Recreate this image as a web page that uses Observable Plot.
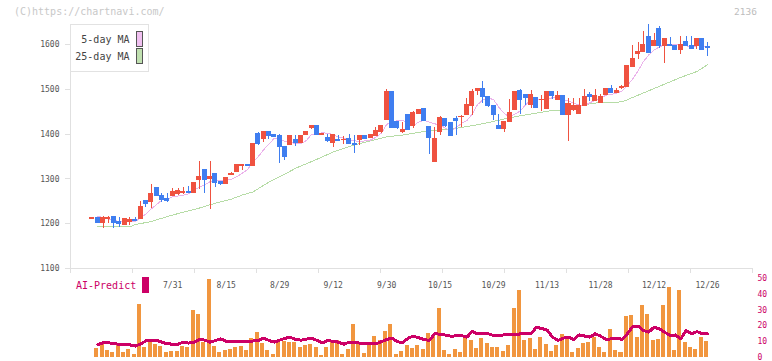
<!DOCTYPE html>
<html><head><meta charset="utf-8">
<script src="https://cdn.jsdelivr.net/npm/d3@7"></script>
<script src="https://cdn.jsdelivr.net/npm/@observablehq/plot@0.6"></script>
<style>
body{margin:0;background:#fff;}
#wrap{position:relative;width:772px;height:361px;overflow:hidden;font-family:"DejaVu Sans Mono",monospace;background:#fff;}
#wrap svg{position:absolute;left:0;}
#wrap svg rect,#wrap svg line,#wrap svg path{shape-rendering:crispEdges;}
.ov{position:absolute;white-space:nowrap;font-size:10px;line-height:12px;}
</style></head><body><div id="wrap"></div>
<script>
// ---- data ----
const opens = [1211,1212,1201,1211,1214,1203,1198,1203,1209,1211, 1250,1248,1279,1262,1256,1263,1267,1269,1270,1269, 1298,1319,1299,1310,1293,1288,1308,1316,1328,1332, 1330,1400,1389,1406,1399,1396,1372,1375,1388,1381, 1398,1413,1419,1398,1392,1380,1388,1387,1390,1377, 1388,1395,1391,1397,1406,1431,1495,1428,1404,1442, 1419,1445,1457,1416,1337,1406,1435,1426,1435,1438, 1442,1464,1497,1500,1484,1464,1419,1412,1428,1453, 1497,1488,1466,1480,1476,1457,1495,1477,1486,1442, 1453,1444,1462,1488,1474,1470,1488,1500,1493,1504, 1506,1551,1580,1584,1616,1596,1636,1598,1600,1598, 1587,1607,1598,1596,1613,1594];
const highs = [1212,1212,1216,1216,1214,1214,1211,1214,1215,1250, 1250,1288,1281,1268,1267,1279,1279,1281,1283,1292, 1339,1319,1339,1310,1293,1303,1314,1331,1332,1332, 1379,1404,1406,1406,1399,1400,1372,1397,1397,1397, 1406,1419,1419,1401,1400,1399,1397,1394,1399,1397, 1397,1397,1399,1415,1419,1500,1495,1428,1426,1444, 1450,1455,1457,1418,1416,1439,1435,1426,1439,1442, 1480,1500,1500,1517,1484,1464,1444,1428,1477,1495, 1500,1488,1497,1480,1486,1495,1495,1495,1486,1480, 1480,1479,1500,1493,1500,1488,1500,1509,1502,1509, 1553,1598,1605,1629,1645,1625,1640,1613,1616,1598, 1618,1618,1618,1613,1613,1604];
const lows = [1211,1201,1190,1201,1190,1191,1198,1195,1206,1211, 1237,1235,1262,1248,1248,1263,1264,1266,1268,1269, 1276,1268,1232,1282,1286,1288,1308,1316,1320,1327, 1330,1375,1381,1389,1394,1335,1342,1375,1372,1381, 1398,1410,1398,1397,1381,1370,1384,1377,1377,1357, 1375,1390,1391,1397,1402,1431,1413,1411,1401,1410, 1412,1445,1430,1355,1337,1397,1416,1397,1397,1416, 1442,1442,1486,1468,1459,1430,1412,1404,1428,1453, 1444,1463,1457,1459,1450,1457,1477,1477,1442,1384, 1450,1444,1462,1474,1474,1470,1486,1491,1493,1500, 1506,1551,1567,1584,1582,1596,1591,1558,1596,1587, 1578,1596,1591,1589,1586,1573];
const closes = [1212,1201,1212,1212,1201,1200,1211,1209,1206,1238, 1244,1266,1262,1254,1250,1270,1274,1270,1269,1292, 1305,1298,1304,1291,1288,1303,1311,1331,1332,1330, 1379,1377,1406,1397,1394,1371,1350,1397,1380,1397, 1406,1419,1398,1400,1384,1399,1384,1388,1377,1375, 1395,1390,1399,1408,1419,1495,1413,1413,1410,1410, 1448,1455,1430,1391,1390,1437,1419,1397,1430,1439, 1466,1495,1500,1484,1462,1442,1412,1428,1448,1495, 1477,1480,1488,1459,1477,1495,1486,1486,1442,1468, 1464,1464,1482,1484,1486,1484,1500,1491,1497,1506, 1553,1567,1584,1600,1582,1609,1598,1613,1596,1587, 1600,1596,1591,1613,1587,1593];
const ma5 = [null,1217,1214,1210,1208,1205,1207,1207,1205,1213, 1222,1233,1243,1253,1255,1260,1262,1264,1267,1275, 1282,1287,1294,1298,1297,1297,1299,1305,1313,1321, 1337,1350,1365,1378,1391,1389,1384,1382,1378,1379, 1386,1400,1400,1404,1401,1400,1393,1391,1386,1385, 1384,1385,1387,1393,1402,1422,1427,1430,1430,1428, 1419,1427,1431,1427,1423,1421,1413,1407,1415,1424, 1430,1445,1466,1477,1481,1477,1460,1446,1438,1445, 1452,1466,1478,1480,1476,1480,1481,1481,1477,1475, 1469,1465,1464,1470,1476,1480,1487,1489,1492,1496, 1509,1523,1541,1562,1577,1588,1595,1600,1600,1601, 1599,1598,1594,1597,1597,1596];
const ma25Idx = [1,7,8,11,14,17,20,23,26,28,30,33,36,38,41,45,49,52,55,58,62,65,68,71,74,77,80,84,86,88,91,93,95,99,101,104,107,110,113,115];
const ma25Val = [1193,1193,1198,1205,1216,1226,1235,1246,1255,1264,1271,1293,1311,1324,1339,1360,1376,1385,1394,1398,1406,1409,1413,1419,1426,1434,1441,1449,1453,1453,1462,1468,1471,1472,1482,1497,1512,1527,1540,1555];
const volume = [0,5.9,8.7,4.6,3.4,7.6,3.4,5.1,2.1,33.5, 6.5,9.7,8.2,7.2,3.4,4.0,4.0,7.2,6.5,30, 27.4,9.7,49.4,7.2,3.4,4.4,5.1,6.5,7.2,4.4, 12.2,16,9,4.4,1.7,10.1,10.1,9.7,9.7,6.5, 7.6,8.2,6.5,1.3,6.5,10.8,10.8,1.9,5.1,20.9, 8.2,2.5,8.2,13.3,10.8,16.5,20.9,1.9,3.8,7.6, 5.7,7.6,5.1,15.2,13.3,31,4.4,1.9,5.1,3.2, 13.3,10.8,5.7,12,8.9,6.3,6.3,3.8,7.6,31, 42.4,10.8,12,5.1,12.7,8.4,3.8,7.6,14.6,13.3, 3.2,5.7,8.9,9.5,12.7,6.3,3.2,17.7,4.4,3.2, 25.9,26.6,12.7,32.9,27.2,10.8,11.4,32.9,44.3,4.4, 42.4,9.5,6.3,5.1,12.7,10.1];
const aiIdx = [1,2,4,5,7,8,9,10,12,13,14,16,17,18,19,20,21,22,24,25,27,29,31,32,33,34,36,37,38,39,41,43,44,46,47,48,50,52,53,55,56,57,58,59,60,62,63,64,65,67,69,70,71,72,74,75,77,79,80,82,83,85,86,87,88,89,90,91,93,94,95,96,98,99,100,101,102,103,104,105,106,108,109,110,111,112,113,114,115];
const aiVal = [8.2,9.3,9.1,8.2,8.0,7.2,8.6,10.5,10.8,9.7,8.6,8.4,9.7,9.1,9.7,11.4,11.0,9.7,11.8,10.3,10.1,10.1,10.8,12.2,10.8,9.7,12.2,12.7,11.4,11.0,12.2,9.3,10.8,9.7,8.4,9.7,9.1,8.6,8.6,11.4,12.2,10.1,9.3,12.2,13.5,11.4,10.8,15.0,14.8,13.5,13.9,12.9,16.4,15.0,15.0,13.9,14.3,14.3,15.0,15.0,19.2,17.4,13.0,10.8,12.2,12.9,11.4,14.3,12.9,15.0,13.5,11.4,12.2,11.5,15.0,19.5,19.8,17.1,16.1,19.2,18.1,13.9,14.3,11.8,17.1,15.0,16.4,15.0,15.0];
const dateLabels = ["7/31","8/15","8/29","9/12","9/30","10/15","10/29","11/13","11/28","12/12","12/26"];
const dateLabelIdx = [15,25,35,45,55,65,75,85,95,105,115];
const priceTicks = [1100,1200,1300,1400,1500,1600];
const aiTicks = [0,10,20,30,40,50];

// ---- tables ----
const candles = opens.map((o,i)=>({i, o, h: highs[i], l: lows[i], c: closes[i], up: closes[i] >= o}));
const ma5Data = ma5.map((v,i)=>({i, v}));
const ma25Data = ma25Idx.map((i,k)=>({i, v: ma25Val[k]}));
const volData = volume.map((v,i)=>({i, v}));
const aiData = aiIdx.map((i,k)=>({i, v: aiVal[k]}));
const labelData = dateLabels.map((t,k)=>({i: dateLabelIdx[k], t}));

const RED = "#ef5240", BLUE = "#3f7ef0";
const xDomain = [-4.1, 123.4];
const gridTicks = d3.range(12).map(k => xDomain[0] + k*(xDomain[1]-xDomain[0])/11);
const font = "'DejaVu Sans Mono', monospace";

const topPlot = Plot.plot({
  width: 772, height: 275,
  marginLeft: 70, marginRight: 20, marginTop: 24, marginBottom: 7,
  x: {domain: xDomain, axis: null},
  y: {domain: [1100, 1645], axis: null},
  style: {background: "transparent", fontFamily: font, fontSize: "8px", color: "#555"},
  marks: [
    Plot.ruleX([xDomain[0]], {stroke: "#e0e0e0", strokeWidth: 1.5}),
    Plot.ruleY([1100], {stroke: "#e0e0e0", strokeWidth: 1.5}),
    Plot.axisX({ticks: gridTicks, tickSize: 5, tickFormat: () => "", stroke: "#e0e0e0", label: null}),
    Plot.axisY({ticks: priceTicks, tickSize: 5, tickPadding: 6, tickFormat: d => String(d), stroke: "#e0e0e0", fill: "#555", label: null}),
    Plot.line(ma25Data, {x: "i", y: "v", stroke: "#b6dca6", strokeWidth: 1}),
    Plot.line(ma5Data, {x: "i", y: "v", stroke: "#ebb2eb", strokeWidth: 1}),
    Plot.ruleX(candles, {filter: d => d.up, x: "i", y1: "l", y2: "h", stroke: RED, strokeWidth: 1}),
    Plot.ruleX(candles, {filter: d => !d.up, x: "i", y1: "l", y2: "h", stroke: BLUE, strokeWidth: 1}),
    Plot.rect(candles, {filter: d => d.up, x1: d => d.i - 0.47, x2: d => d.i + 0.47, y1: "o", y2: "c", fill: RED, insetTop: -0.5, insetBottom: -0.5}),
    Plot.rect(candles, {filter: d => !d.up, x1: d => d.i - 0.47, x2: d => d.i + 0.47, y1: "o", y2: "c", fill: BLUE, insetTop: -0.5, insetBottom: -0.5})
  ]
});
topPlot.style.top = "0px";

const botPlot = Plot.plot({
  width: 772, height: 91,
  marginLeft: 70, marginRight: 20, marginTop: 8, marginBottom: 4,
  x: {domain: xDomain, axis: null},
  y: {domain: [0, 50], axis: null},
  style: {background: "transparent", fontFamily: font, fontSize: "8px"},
  marks: [
    Plot.rect(volData, {x1: d => d.i - 0.56, x2: d => d.i + 0.19, y1: 0, y2: "v", fill: "#f1963f"}),
    Plot.line(aiData, {x: "i", y: "v", stroke: "#cc0066", strokeWidth: 3}),
    Plot.axisY({anchor: "right", ticks: aiTicks, tickSize: 0, tickPadding: 5, fill: "#cc0066", label: null}),
    Plot.text(labelData, {x: "i", text: "t", frameAnchor: "top", dy: 4, fill: "#555"})
  ]
});
botPlot.style.top = "270px";

const wrap = document.getElementById("wrap");
wrap.appendChild(topPlot);
wrap.appendChild(botPlot);

function ov(html, css){ const d = document.createElement("div"); d.className = "ov"; d.innerHTML = html; Object.assign(d.style, css); wrap.appendChild(d); return d; }
ov("(C)https://chartnavi.com/", {left: "14px", top: "6px", color: "#c8c8c8"});
ov("2136", {left: "734px", top: "6px", color: "#bdbdbd", fontSize: "9.5px"});
// legend
ov("", {left: "70px", top: "24px", width: "79px", height: "48px", boxSizing: "border-box", border: "1px solid #e2e2e2", background: "#fff"});
ov("5-day MA", {left: "70px", width: "59.5px", textAlign: "right", top: "34px", color: "#444"});
ov("25-day MA", {left: "70px", width: "59.5px", textAlign: "right", top: "51px", color: "#444"});
ov("", {left: "136px", top: "31px", width: "7px", height: "16px", boxSizing: "border-box", border: "1px solid #555", background: "#f0c0f0"});
ov("", {left: "136px", top: "48px", width: "7px", height: "16px", boxSizing: "border-box", border: "1px solid #555", background: "#c0e0b0"});
// AI-Predict label
ov("AI-Predict", {left: "76px", top: "280px", color: "#cc0066"});
ov("", {left: "142px", top: "277px", width: "7px", height: "16px", background: "#cc0066"});
</script>
</body></html>
